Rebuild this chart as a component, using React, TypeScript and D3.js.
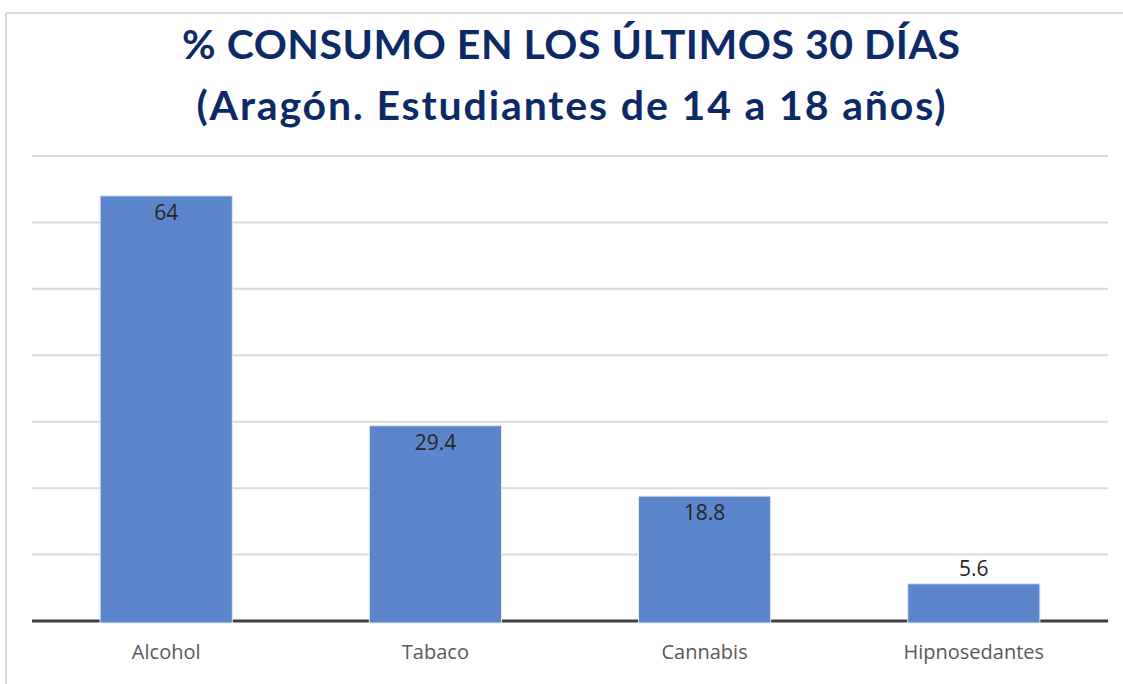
import React from "react";
import { scaleBand, scaleLinear, range } from "d3";

// chart data
const categories = ["Alcohol", "Tabaco", "Cannabis", "Hipnosedantes"];
const values = [64, 29.4, 18.8, 5.6];
const valueLabels = ["64", "29.4", "18.8", "5.6"];
const titleLines = ["% CONSUMO EN LOS ÚLTIMOS 30 DÍAS", "(Aragón. Estudiantes de 14 a 18 años)"];
const titleWidths = [778, 749];
const gridValues = range(10, 71, 10);

const W = 1123;
const H = 684;
const plot = { left: 32, right: 1108, top: 156, bottom: 621 };

export default function App() {
  const x = scaleBand<string>()
    .domain(categories)
    .range([plot.left, plot.right])
    .paddingInner(0.509)
    .paddingOuter(0.253);

  const y = scaleLinear().domain([0, 70]).range([plot.bottom, plot.top]);

  return (
    <div style={{ position: "absolute", left: 0, top: 0 }}>
      <svg width={W} height={H} style={{ display: "block", background: "#fff" }}>
        {/* frame */}
        <line x1={6} x2={W} y1={13} y2={13} stroke="#d9d9d9" strokeWidth={2} />
        <line x1={6} x2={6} y1={13} y2={H} stroke="#d9d9d9" strokeWidth={2} />

        {/* title */}
        {titleLines.map((t, i) => (
          <text
            key={t}
            x={571}
            y={59 + i * 61}
            textAnchor="middle"
            textLength={titleWidths[i]}
            lengthAdjust="spacing"
            fontFamily="Lato, 'Open Sans', sans-serif"
            fontWeight="bold"
            fontSize={41}
            fill="#0b2a66"
          >
            {t}
          </text>
        ))}

        {/* gridlines */}
        {gridValues.map((v) => (
          <line key={v} x1={plot.left} x2={plot.right} y1={y(v)} y2={y(v)} stroke="#d9d9d9" strokeWidth={2} />
        ))}

        {/* baseline */}
        <line x1={plot.left} x2={plot.right} y1={y(0)} y2={y(0)} stroke="#404040" strokeWidth={3} />

        {/* bars */}
        {categories.map((c, i) => (
          <rect
            key={c}
            x={x(c)}
            y={y(values[i])}
            width={x.bandwidth()}
            height={y(0) - y(values[i]) + 2}
            fill="#5b86cb"
            stroke="#e4e9f2"
            strokeWidth={1}
          />
        ))}

        {/* value labels */}
        {categories.map((c, i) => {
          const h = y(0) - y(values[i]);
          const inside = h > 60;
          return (
            <text
              key={c}
              x={(x(c) as number) + x.bandwidth() / 2}
              y={inside ? y(values[i]) + 24 : y(values[i]) - 8}
              textAnchor="middle"
              fontFamily="'Open Sans', sans-serif"
              fontSize={21}
              fill="#262626"
            >
              {valueLabels[i]}
            </text>
          );
        })}

        {/* category labels */}
        {categories.map((c) => (
          <text
            key={c}
            x={(x(c) as number) + x.bandwidth() / 2}
            y={659}
            textAnchor="middle"
            fontFamily="'Open Sans', sans-serif"
            fontSize={20}
            fill="#595959"
          >
            {c}
          </text>
        ))}
      </svg>
    </div>
  );
}
